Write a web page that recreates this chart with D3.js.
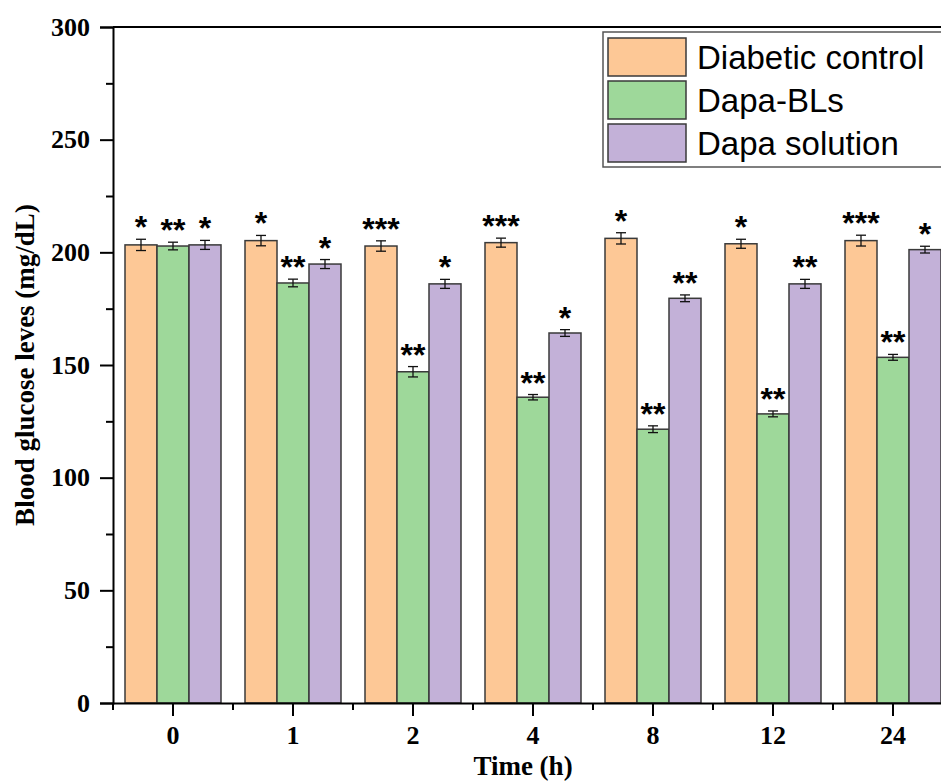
<!DOCTYPE html>
<html>
<head>
<meta charset="utf-8">
<script src="https://cdn.jsdelivr.net/npm/d3@7"></script>
<style>
  body { margin: 0; background: #fff; }
  svg { display: block; }
  .tick-label { font-family: "Liberation Serif", "Times New Roman", serif; font-weight: bold; font-size: 26px; }
  .axis-title { font-family: "Liberation Serif", "Times New Roman", serif; font-weight: bold; font-size: 27px; }
  .legend-text { font-family: "Liberation Sans", Arial, sans-serif; font-size: 33px; }
  .stars { font-family: "Liberation Sans", Arial, sans-serif; font-size: 32px; font-weight: bold; }
</style>
</head>
<body>
<div id="chart"></div>
<script>
// data
let timePoints = ["0", "1", "2", "4", "8", "12", "24"];
let seriesNames = ["Diabetic control", "Dapa-BLs", "Dapa solution"];
let seriesColors = ["#fdc896", "#9ed89a", "#c3b1d8"];

let controlMeans = [203.3, 205.2, 202.8, 204.3, 206.2, 203.8, 205.2];
let controlErr = [2.5, 2.3, 2.3, 2.0, 2.5, 2.0, 2.4];
let controlStars = ["*", "*", "***", "***", "*", "*", "***"];

let blsMeans = [202.8, 186.4, 147.0, 135.7, 121.5, 128.3, 153.4];
let blsErr = [1.7, 1.7, 2.3, 1.2, 1.5, 1.3, 1.3];
let blsStars = ["**", "**", "**", "**", "**", "**", "**"];

let solMeans = [203.3, 194.8, 186.0, 164.2, 179.6, 186.0, 201.2];
let solErr = [2.0, 2.0, 2.0, 1.5, 1.5, 2.0, 1.5];
let solStars = ["*", "*", "*", "*", "**", "**", "*"];

let yTicks = [0, 50, 100, 150, 200, 250, 300];
let yMinorTicks = [25, 75, 125, 175, 225, 275];

// build rows per time point
let means = [controlMeans, blsMeans, solMeans];
let errs = [controlErr, blsErr, solErr];
let stars = [controlStars, blsStars, solStars];
let rows = timePoints.map((t, i) => ({
  time: t,
  values: seriesNames.map((s, j) => ({ series: s, idx: j, mean: means[j][i], err: errs[j][i], star: stars[j][i] })),
}));

let width = 941, height = 781;
let margin = { top: 27, left: 113, bottom: 78 };
let plotRight = 953; // right frame lies outside the cropped picture

let svg = d3.select("#chart").append("svg").attr("width", width).attr("height", height);

let x = d3.scaleBand().domain(timePoints).range([margin.left, plotRight]).paddingInner(0.2).paddingOuter(0.1);
let xSub = d3.scaleBand().domain(d3.range(seriesNames.length)).range([0, x.bandwidth()]);
let y = d3.scaleLinear().domain([0, 300]).range([height - margin.bottom, margin.top]);

// bars
let groups = svg.selectAll(".group").data(rows).enter().append("g")
  .attr("class", "group")
  .attr("transform", (d) => `translate(${x(d.time)},0)`);

groups.selectAll("rect").data((d) => d.values).enter().append("rect")
  .attr("x", (d) => xSub(d.idx))
  .attr("y", (d) => y(d.mean))
  .attr("width", xSub.bandwidth())
  .attr("height", (d) => y(0) - y(d.mean))
  .attr("fill", (d) => seriesColors[d.idx])
  .attr("stroke", "#3a3a3a")
  .attr("stroke-width", 1.5);

// error bars
let capW = 5;
let eb = groups.selectAll(".err").data((d) => d.values).enter().append("g").attr("class", "err")
  .attr("stroke", "#111").attr("stroke-width", 1.3);
eb.append("line")
  .attr("x1", (d) => xSub(d.idx) + xSub.bandwidth() / 2)
  .attr("x2", (d) => xSub(d.idx) + xSub.bandwidth() / 2)
  .attr("y1", (d) => y(d.mean + d.err))
  .attr("y2", (d) => y(d.mean - d.err));
eb.append("line")
  .attr("x1", (d) => xSub(d.idx) + xSub.bandwidth() / 2 - capW)
  .attr("x2", (d) => xSub(d.idx) + xSub.bandwidth() / 2 + capW)
  .attr("y1", (d) => y(d.mean + d.err))
  .attr("y2", (d) => y(d.mean + d.err));
eb.append("line")
  .attr("x1", (d) => xSub(d.idx) + xSub.bandwidth() / 2 - capW)
  .attr("x2", (d) => xSub(d.idx) + xSub.bandwidth() / 2 + capW)
  .attr("y1", (d) => y(d.mean - d.err))
  .attr("y2", (d) => y(d.mean - d.err));

// significance stars
groups.selectAll(".stars").data((d) => d.values).enter().append("text")
  .attr("class", "stars")
  .attr("x", (d) => xSub(d.idx) + xSub.bandwidth() / 2)
  .attr("y", (d) => y(d.mean + d.err) - 1)
  .attr("text-anchor", "middle")
  .text((d) => d.star);

// y axis
let yAxis = svg.append("g").attr("transform", `translate(${margin.left},0)`)
  .call(d3.axisLeft(y).tickValues(yTicks).tickSize(13).tickPadding(10));
yAxis.selectAll(".tick text").attr("class", "tick-label").attr("fill", "#000");
svg.append("g").attr("transform", `translate(${margin.left},0)`)
  .call(d3.axisLeft(y).tickValues(yMinorTicks).tickSize(7).tickFormat(""))
  .select(".domain").remove();

// x axis
let xAxis = svg.append("g").attr("transform", `translate(0,${y(0)})`)
  .call(d3.axisBottom(x).tickSize(13).tickPadding(10).tickSizeOuter(0));
xAxis.selectAll(".tick text").attr("class", "tick-label").attr("fill", "#000");
let xMinor = d3.range(timePoints.length + 1).map((i) => margin.left + i * x.step());
svg.append("g").selectAll("line").data(xMinor).enter().append("line")
  .attr("x1", (d) => d).attr("x2", (d) => d)
  .attr("y1", y(0)).attr("y2", y(0) + 7)
  .attr("stroke", "#000").attr("stroke-width", 2);

svg.selectAll(".domain").attr("stroke", "#000").attr("stroke-width", 2);
svg.selectAll(".tick line").attr("stroke", "#000").attr("stroke-width", 2);

// top frame
svg.append("line")
  .attr("x1", margin.left).attr("x2", plotRight)
  .attr("y1", y(300)).attr("y2", y(300))
  .attr("stroke", "#000").attr("stroke-width", 2);

// axis titles
svg.append("text").attr("class", "axis-title")
  .attr("transform", `translate(34, ${(y(0) + y(300)) / 2}) rotate(-90)`)
  .attr("text-anchor", "middle")
  .text("Blood glucose leves (mg/dL)");
svg.append("text").attr("class", "axis-title")
  .attr("x", 523).attr("y", 775)
  .attr("text-anchor", "middle")
  .text("Time (h)");

// legend
let legend = svg.append("g").attr("transform", "translate(603,32)");
legend.append("rect")
  .attr("x", 0).attr("y", 0).attr("width", 360).attr("height", 135)
  .attr("fill", "#fff").attr("stroke", "#555").attr("stroke-width", 1.5);
let items = legend.selectAll(".item").data(seriesNames).enter().append("g")
  .attr("transform", (d, i) => `translate(5, ${6 + i * 43})`);
items.append("rect")
  .attr("width", 78).attr("height", 38)
  .attr("fill", (d, i) => seriesColors[i])
  .attr("stroke", "#3a3a3a").attr("stroke-width", 1.5);
items.append("text").attr("class", "legend-text")
  .attr("x", 89).attr("y", 31)
  .text((d) => d);
</script>
</body>
</html>
